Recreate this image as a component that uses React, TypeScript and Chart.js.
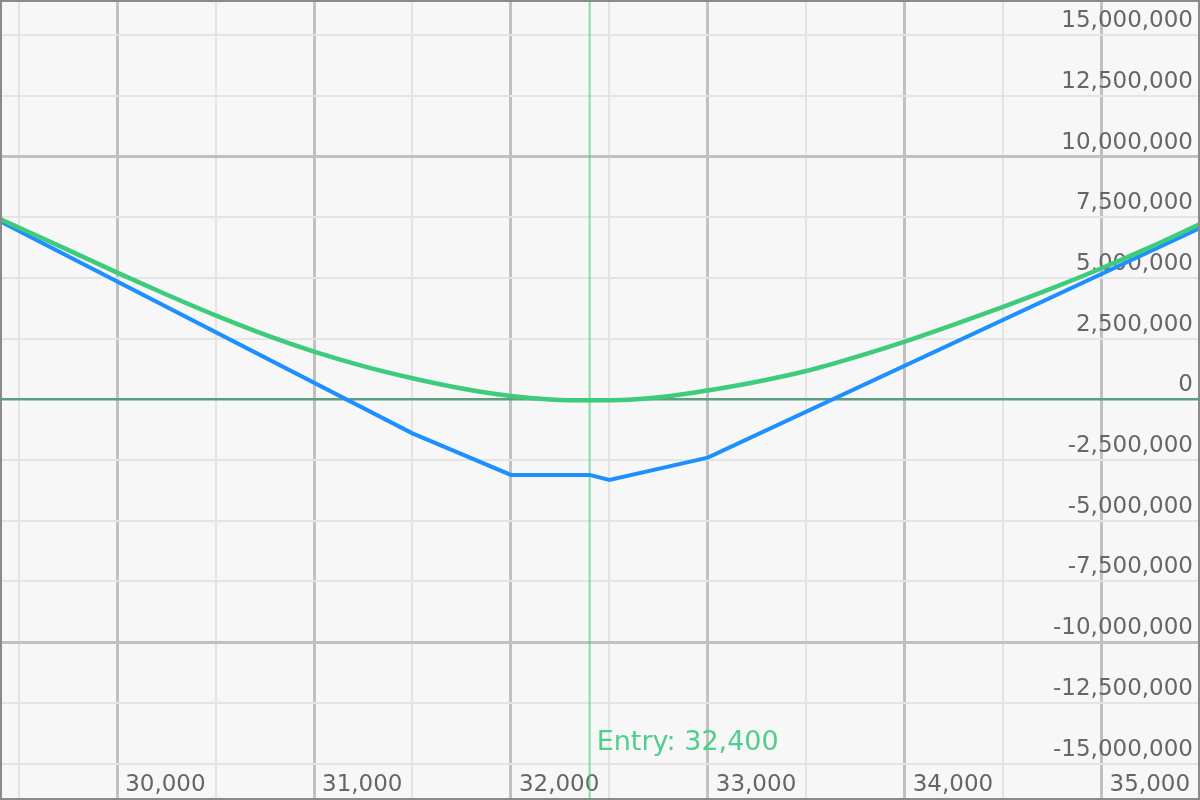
import React, { useEffect, useRef } from 'react';
import { Chart, registerables } from 'chart.js';

Chart.register(...registerables);

// P&L at expiry (blue, piecewise linear)
const expiryPrices = [29400, 31500, 32000, 32400, 32500, 33000, 35500];
const expiryPnL = [7360000, -1400000, -3110000, -3110000, -3320000, -2400000, 7060000];

// P&L today (green, smooth)
const todayPrices = [
  29400, 29750, 30000, 30250, 30500, 30750, 31000, 31250, 31500, 31750, 32000, 32200,
  32400, 32600, 32800, 33000, 33250, 33500, 33750, 34000, 34250, 34500, 34750, 35000,
  35250, 35500,
];
const todayPnL = [
  7450000, 6160000, 5220000, 4320000, 3460000, 2670000, 1970000, 1370000, 870000, 450000,
  140000, 0, -40000, -10000, 130000, 370000, 730000, 1170000, 1740000, 2380000,
  3080000, 3810000, 4580000, 5400000, 6280000, 7220000,
];

const entryPrice = 32400;

const xGridValues = [
  29500, 30000, 30500, 31000, 31500, 32000, 32500, 33000, 33500, 34000, 34500, 35000,
];
const yTickValues = [
  -15000000, -12500000, -10000000, -7500000, -5000000, -2500000, 0, 2500000, 5000000,
  7500000, 10000000, 12500000, 15000000,
];

const X_MIN = 29405;
const X_MAX = 35500;
const Y_MIN = -16500000;
const Y_MAX = 16450000;

const FONT = '"DejaVu Sans", Verdana, sans-serif';

const overlayPlugin = {
  id: 'overlay',
  beforeDatasetsDraw(chart: any) {
    const { ctx, chartArea, scales } = chart;
    const px = scales.x.getPixelForValue(entryPrice);
    ctx.save();
    ctx.strokeStyle = 'rgba(61, 204, 126, 0.6)';
    ctx.lineWidth = 2;
    ctx.beginPath();
    ctx.moveTo(px, chartArea.top);
    ctx.lineTo(px, chartArea.bottom);
    ctx.stroke();
    ctx.fillStyle = '#4fcf8b';
    ctx.font = '27px ' + FONT;
    ctx.textAlign = 'left';
    ctx.textBaseline = 'middle';
    ctx.fillText('Entry: ' + entryPrice.toLocaleString('en-US'), px + 7, chartArea.bottom - 57);
    ctx.restore();
  },
  afterDraw(chart: any) {
    const { ctx, width, height } = chart;
    ctx.save();
    ctx.strokeStyle = '#8a8a8a';
    ctx.lineWidth = 2;
    ctx.strokeRect(1, 1, width - 2, height - 2);
    ctx.restore();
  },
};

const zeroPadding = (scale: any) => {
  scale.paddingTop = 0;
  scale.paddingBottom = 0;
  scale.paddingLeft = 0;
  scale.paddingRight = 0;
};

export default function App() {
  const canvasRef = useRef<HTMLCanvasElement | null>(null);

  useEffect(() => {
    document.body.style.margin = '0';
    const canvas = canvasRef.current;
    if (!canvas) return;
    const chart = new Chart(canvas, {
      type: 'line',
      data: {
        datasets: [
          {
            label: 'Today',
            data: todayPrices.map((p, i) => ({ x: p, y: todayPnL[i] })),
            borderColor: '#3ecb7c',
            borderWidth: 4.5,
            pointRadius: 0,
            cubicInterpolationMode: 'monotone',
            fill: false,
          },
          {
            label: 'Expiry',
            data: expiryPrices.map((p, i) => ({ x: p, y: expiryPnL[i] })),
            borderColor: '#1e8fff',
            borderWidth: 4,
            pointRadius: 0,
            tension: 0,
            fill: false,
          },
        ],
      },
      options: {
        animation: false,
        responsive: true,
        maintainAspectRatio: false,
        layout: { padding: 0 },
        plugins: {
          legend: { display: false },
          tooltip: { enabled: false },
        },
        scales: {
          x: {
            type: 'linear',
            position: 'bottom',
            min: X_MIN,
            max: X_MAX,
            afterBuildTicks: (scale: any) => {
              scale.ticks = xGridValues.map((v) => ({ value: v }));
            },
            afterFit: (scale: any) => {
              scale.height = 0;
              zeroPadding(scale);
            },
            border: { display: false },
            grid: {
              drawTicks: false,
              lineWidth: (ctx: any) => (ctx.tick && ctx.tick.value % 1000 === 0 ? 3 : 2),
              color: (ctx: any) =>
                ctx.tick && ctx.tick.value % 1000 === 0 ? '#c0c0c0' : '#e4e4e4',
            },
            ticks: {
              autoSkip: false,
              mirror: true,
              padding: 1,
              align: 'start',
              labelOffset: 8,
              maxRotation: 0,
              minRotation: 0,
              color: '#666666',
              font: { family: FONT, size: 23 },
              callback: (value: any) =>
                Number(value) % 1000 === 0 ? Number(value).toLocaleString('en-US') : '',
            },
          },
          y: {
            type: 'linear',
            position: 'right',
            min: Y_MIN,
            max: Y_MAX,
            afterBuildTicks: (scale: any) => {
              scale.ticks = yTickValues.map((v) => ({ value: v }));
            },
            afterFit: (scale: any) => {
              scale.width = 0;
              zeroPadding(scale);
            },
            border: { display: false },
            grid: {
              drawTicks: false,
              lineWidth: (ctx: any) => {
                const v = ctx.tick ? ctx.tick.value : 1;
                if (v === 0) return 2.5;
                return v % 10000000 === 0 ? 3 : 2;
              },
              color: (ctx: any) => {
                const v = ctx.tick ? ctx.tick.value : 1;
                if (v === 0) return '#5f9d7f';
                return v % 10000000 === 0 ? '#c0c0c0' : '#e4e4e4';
              },
            },
            ticks: {
              autoSkip: false,
              mirror: true,
              padding: -7,
              labelOffset: -14,
              color: '#666666',
              font: { family: FONT, size: 23 },
              callback: (value: any) => Number(value).toLocaleString('en-US'),
            },
          },
        },
      },
      plugins: [overlayPlugin],
    } as any);
    return () => chart.destroy();
  }, []);

  return (
    <div style={{ position: 'relative', width: 1200, height: 800, background: '#f7f7f7' }}>
      <canvas ref={canvasRef} />
    </div>
  );
}
